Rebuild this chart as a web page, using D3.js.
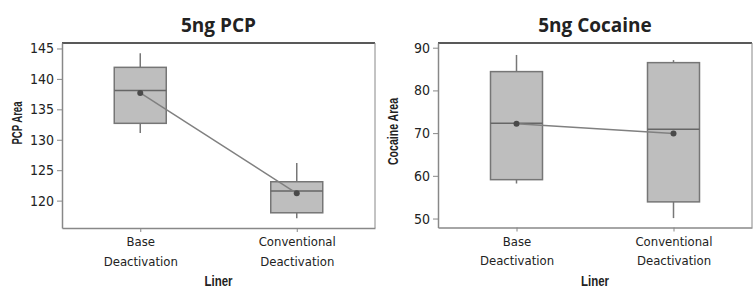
<!DOCTYPE html>
<html>
<head>
<meta charset="utf-8">
<script src="https://cdn.jsdelivr.net/npm/d3@7"></script>
<style>
   body { margin: 0; background: #fff; }
   svg text { fill: #222; }
   .tick-label { font-family: "Liberation Sans Narrow", "DejaVu Sans Condensed", sans-serif; font-stretch: condensed; font-size: 13px; }
   .axis-title { font-family: "Liberation Sans", "DejaVu Sans", sans-serif; font-size: 15px; font-weight: bold; }
   .chart-title { font-family: "Open Sans", "Noto Sans", sans-serif; font-size: 19px; font-weight: bold; }
</style>
</head>
<body>
<svg id="chart" width="754" height="295"></svg>
<script>
// Les catégories (axe x)
const categories = ["Base Deactivation", "Conventional Deactivation"]

// 5ng PCP
const pcpWhiskerLow = [131.1, 117.1]
const pcpQ1 = [132.7, 118.0]
const pcpMedian = [138.1, 121.6]
const pcpQ3 = [141.9, 123.1]
const pcpWhiskerHigh = [144.2, 126.2]
const pcpMean = [137.7, 121.2]
const pcpTicks = [120, 125, 130, 135, 140, 145]

// 5ng Cocaine
const cocWhiskerLow = [58.2, 50.1]
const cocQ1 = [59.1, 53.9]
const cocMedian = [72.3, 70.9]
const cocQ3 = [84.4, 86.5]
const cocWhiskerHigh = [88.3, 87.1]
const cocMean = [72.2, 69.9]
const cocTicks = [50, 60, 70, 80, 90]

const svg = d3.select("#chart")

function drawPanel(opts) {
   const {left, right, top, bottom, domain, ticks, title, yLabel, yLabelX, yLabelY, yLabelW, stats} = opts
   const g = svg.append("g")

   const x = d3.scalePoint().domain(categories).range([left, right]).padding(0.5)
   const y = d3.scaleLinear().domain(domain).range([bottom, top])

   // Cadre : haut foncé, droite grise
   g.append("line").attr("x1", left).attr("x2", right).attr("y1", top).attr("y2", top)
      .attr("stroke", "#222").attr("stroke-width", 1.5)
   g.append("line").attr("x1", right).attr("x2", right).attr("y1", top).attr("y2", bottom)
      .attr("stroke", "#888").attr("stroke-width", 1)

   // Axe y
   const yAxis = g.append("g")
      .attr("transform", `translate(${left},0)`)
      .call(d3.axisLeft(y).tickValues(ticks).tickSize(5).tickSizeOuter(0).tickPadding(3))
   yAxis.select(".domain").attr("stroke", "#888").attr("stroke-width", 1.5)
   yAxis.selectAll(".tick line").attr("stroke", "#888")
   yAxis.selectAll(".tick text").attr("class", "tick-label").attr("fill", "#333")
      .style("font-size", "14px")

   // Axe x (libellés sur deux lignes)
   const xAxis = g.append("g")
      .attr("transform", `translate(0,${bottom})`)
      .call(d3.axisBottom(x).tickSize(4).tickSizeOuter(0).tickFormat(""))
   xAxis.select(".domain").attr("stroke", "#888").attr("stroke-width", 1.5)
   xAxis.selectAll(".tick line").attr("stroke", "#888")
   xAxis.selectAll(".tick").each(function (d) {
      const words = d.split(" ")
      const t = d3.select(this).append("text")
         .attr("class", "tick-label")
         .attr("text-anchor", "middle")
         .attr("fill", "#333")
      words.forEach((w, i) => {
         t.append("tspan").attr("x", 0).attr("y", 18 + i * 19.5).text(w)
      })
   })

   // Titres (texte resserré pour imiter la police condensée)
   g.append("text").attr("class", "chart-title")
      .attr("x", (left + right) / 2).attr("y", 32)
      .attr("text-anchor", "middle").text(title)
   g.append("text").attr("class", "axis-title")
      .attr("x", (left + right) / 2).attr("y", 286)
      .attr("text-anchor", "middle")
      .attr("textLength", 28).attr("lengthAdjust", "spacingAndGlyphs")
      .text("Liner")
   g.append("text").attr("class", "axis-title")
      .attr("transform", `translate(${yLabelX},${yLabelY}) rotate(-90)`)
      .attr("text-anchor", "middle")
      .attr("textLength", yLabelW).attr("lengthAdjust", "spacingAndGlyphs")
      .text(yLabel)

   const boxW = 52

   // Boîtes à moustaches
   categories.forEach((c, i) => {
      const cx = x(c)
      g.append("line").attr("x1", cx).attr("x2", cx)
         .attr("y1", y(stats.high[i])).attr("y2", y(stats.q3[i]))
         .attr("stroke", "#777").attr("stroke-width", 1.5)
      g.append("line").attr("x1", cx).attr("x2", cx)
         .attr("y1", y(stats.q1[i])).attr("y2", y(stats.low[i]))
         .attr("stroke", "#777").attr("stroke-width", 1.5)
      g.append("rect")
         .attr("x", cx - boxW / 2).attr("width", boxW)
         .attr("y", y(stats.q3[i])).attr("height", y(stats.q1[i]) - y(stats.q3[i]))
         .attr("fill", "#bebebe").attr("stroke", "#767676").attr("stroke-width", 1.5)
      g.append("line").attr("x1", cx - boxW / 2).attr("x2", cx + boxW / 2)
         .attr("y1", y(stats.median[i])).attr("y2", y(stats.median[i]))
         .attr("stroke", "#666").attr("stroke-width", 1.5)
   })

   // Ligne des moyennes
   const line = d3.line().x((d, i) => x(categories[i])).y(d => y(d))
   g.append("path").attr("d", line(stats.mean))
      .attr("fill", "none").attr("stroke", "#808080").attr("stroke-width", 1.5)
   g.selectAll(null).data(stats.mean).enter().append("circle")
      .attr("cx", (d, i) => x(categories[i])).attr("cy", d => y(d)).attr("r", 3)
      .attr("fill", "#4a4a4a")
}

drawPanel({
   left: 62, right: 375, top: 43, bottom: 228,
   domain: [115.5, 145.9], ticks: pcpTicks,
   title: "5ng PCP", yLabel: "PCP Area", yLabelX: 22, yLabelY: 123, yLabelW: 43,
   stats: {low: pcpWhiskerLow, q1: pcpQ1, median: pcpMedian, q3: pcpQ3, high: pcpWhiskerHigh, mean: pcpMean}
})

drawPanel({
   left: 438, right: 752, top: 43, bottom: 227.5,
   domain: [47.9, 91.1], ticks: cocTicks,
   title: "5ng Cocaine", yLabel: "Cocaine Area", yLabelX: 398, yLabelY: 131.5, yLabelW: 67,
   stats: {low: cocWhiskerLow, q1: cocQ1, median: cocMedian, q3: cocQ3, high: cocWhiskerHigh, mean: cocMean}
})
</script>
</body>
</html>
